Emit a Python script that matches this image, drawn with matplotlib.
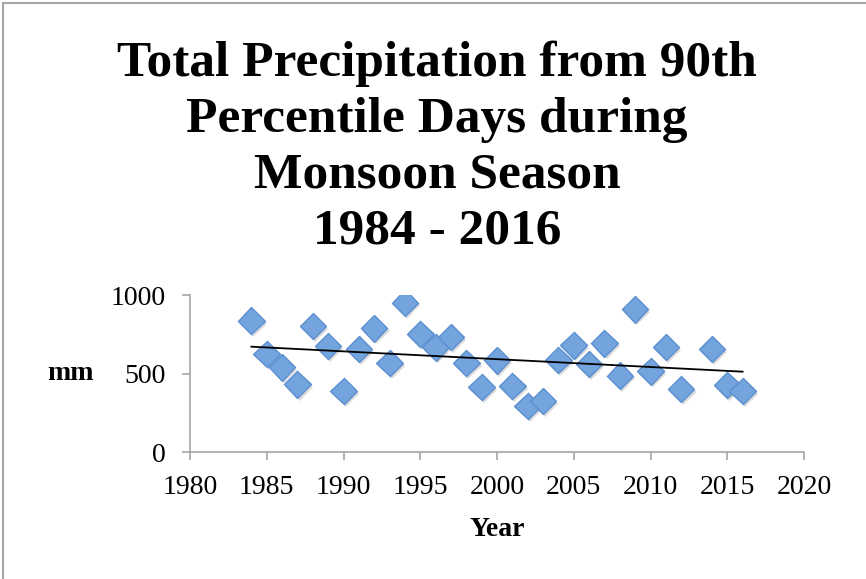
import numpy as np
import matplotlib.pyplot as plt
from matplotlib import patheffects
from matplotlib.lines import Line2D

# monsoon-season rainfall from days above the 90th percentile (no value for 2013)
years = [1984, 1985, 1986, 1987, 1988, 1989, 1990, 1991, 1992, 1993, 1994,
         1995, 1996, 1997, 1998, 1999, 2000, 2001, 2002, 2003, 2004, 2005,
         2006, 2007, 2008, 2009, 2010, 2011, 2012, 2014, 2015, 2016]
precip_mm = [836, 623, 539, 430, 804, 676, 389, 657, 787, 568, 951,
             751, 666, 734, 568, 415, 583, 419, 292, 325, 585, 679,
             560, 692, 487, 909, 513, 670, 402, 657, 428, 389]
xticks = [1980, 1985, 1990, 1995, 2000, 2005, 2010, 2015, 2020]
yticks = [0, 500, 1000]
title_lines = ['Total Precipitation from 90th', 'Percentile Days during',
               'Monsoon Season', '1984 - 2016']

W, H = 866, 579
serif = 'Liberation Serif'
gray = '#a6a6a6'

fig = plt.figure(figsize=(W / 100, H / 100), dpi=100)
ax = fig.add_axes([190 / W, 1 - 452 / H, (804 - 190) / W, (452 - 295) / H])

x = np.array(years)
y = np.array(precip_mm)
ax.plot(x, y, linestyle='none', marker='D', markersize=13.5,
        markerfacecolor='#74a4de', markeredgecolor='#5b8fd0', markeredgewidth=1.0,
        path_effects=[patheffects.SimplePatchShadow(offset=(1.5, -2), shadow_rgbFace='#999999', alpha=0.35),
                      patheffects.Normal()], zorder=3)

# linear trend line across the data range
slope, intercept = np.polyfit(x, y, 1)
tx = np.array([x.min(), x.max()])
ax.plot(tx, slope * tx + intercept, color='black', linewidth=1.3, zorder=4)

ax.set_xlim(1980, 2020)
ax.set_ylim(0, 1000)
ax.set_xticks(xticks)
ax.set_yticks(yticks)
ax.set_xticklabels([str(t) for t in xticks], fontfamily=serif, fontsize=20)
ax.set_yticklabels([str(t) for t in yticks], fontfamily=serif, fontsize=20)
for side in ['top', 'right']:
    ax.spines[side].set_visible(False)
for side in ['left', 'bottom']:
    ax.spines[side].set_color(gray)
    ax.spines[side].set_linewidth(1.2)
ax.tick_params(axis='both', direction='out', length=5.8, width=1.2, color=gray)
ax.tick_params(axis='x', pad=10.5)
ax.tick_params(axis='y', pad=12)

# axis titles
fig.text(70 / W, 1 - 374 / H, 'mm', ha='center', va='center', fontfamily=serif,
         fontweight='bold', fontsize=20)
fig.text(497 / W, 1 - 536 / H, 'Year', ha='center', va='baseline', fontfamily=serif,
         fontweight='bold', fontsize=20)

# four-line chart title, one baseline per line
for line, base in zip(title_lines, [76, 132, 188, 244]):
    fig.text(437 / W, 1 - base / H, line, ha='center', va='baseline',
             fontfamily=serif, fontweight='bold', fontsize=37)

# chart frame edges
fig.add_artist(Line2D([3 / W, 3 / W], [0, 1 - 3 / H], color=gray, linewidth=1.5))
fig.add_artist(Line2D([3 / W, 1], [1 - 3 / H, 1 - 3 / H], color=gray, linewidth=1.5))

fig.savefig('out.png', dpi=100)
